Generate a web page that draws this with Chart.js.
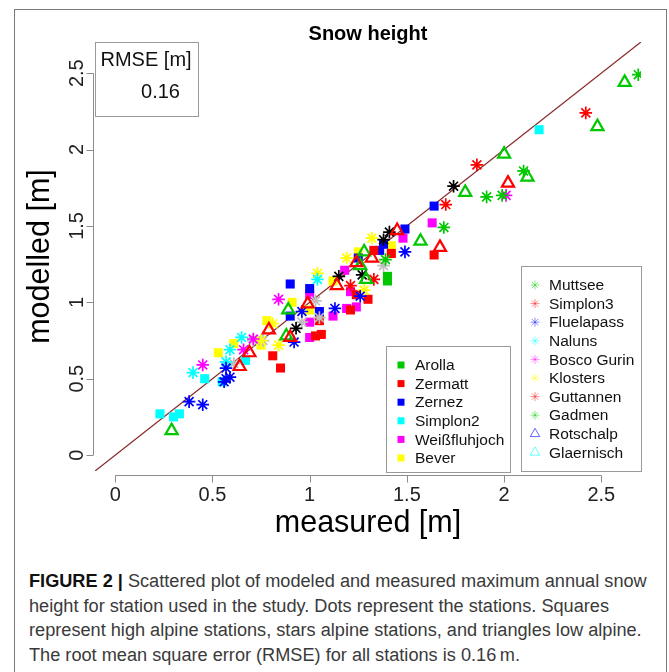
<!DOCTYPE html>
<html>
<head>
<meta charset="utf-8">
<title>Snow height</title>
<script src="https://cdn.jsdelivr.net/npm/chart.js"></script>
<style>
  html, body { margin: 0; padding: 0; background: #fff; }
  body { width: 669px; height: 672px; position: relative; overflow: hidden; }
  #frame { position: absolute; left: 14px; top: 9px; width: 653px; height: 700px; border: 1px solid #7a7a7a; box-sizing: border-box; }
  #chart { position: absolute; left: 0; top: 0; }
  #caption { position: absolute; left: 29px; top: 569px; font-family: "Liberation Sans", Arial, sans-serif;
             font-size: 18px; line-height: 24.7px; color: #3a3a3a; transform-origin: 0 0; white-space: nowrap; }
  #caption b { color: #111; }
</style>
</head>
<body>
<div id="frame"></div>
<canvas id="chart" width="669" height="560"></canvas>
<div id="caption">
  <div><span id="line1"><b>FIGURE 2 |</b> Scattered plot of modeled and measured maximum annual snow</span></div>
  <div>height for station used in the study. Dots represent the stations. Squares</div>
  <div>represent high alpine stations, stars alpine stations, and triangles low alpine.</div>
  <div>The root mean square error (RMSE) for all stations is 0.16&#8201;m.</div>
</div>
<script>
// axis ticks
const xTicks = [0, 0.5, 1, 1.5, 2, 2.5];
const xTickLabels = ['0', '0.5', '1', '1.5', '2', '2.5'];
const yTicks = [0, 0.5, 1, 1.5, 2, 2.5];
const yTickLabels = ['0', '0.5', '1', '1.5', '2', '2.5'];
const axisMin = -0.104, axisMax = 2.704;

// stations (measured, modelled) in m
// squares = high alpine
const arolla = [[1.40, 1.17], [1.40, 1.14]];
const zermatt = [[1.64, 1.31], [1.42, 1.32], [1.33, 1.34], [1.30, 1.02], [1.21, 0.95], [1.24, 1.05],
                 [1.05, 0.88], [1.06, 0.79], [1.03, 0.78], [0.81, 0.65], [0.85, 0.57]];
const zernez = [[1.64, 1.63], [1.49, 1.48], [1.38, 1.38], [1.36, 1.34], [1.25, 1.29], [0.90, 1.12],
                [1.00, 1.09], [1.05, 0.94], [0.90, 0.91]];
const simplon2 = [[2.18, 2.13], [0.23, 0.27], [0.30, 0.25], [0.33, 0.27], [0.46, 0.50], [0.55, 0.48], [0.67, 0.62]];
const weissfluhjoch = [[1.63, 1.52], [1.48, 1.42], [1.18, 1.21], [1.21, 1.07], [1.00, 1.05], [1.19, 0.96],
                       [1.24, 0.97], [1.12, 0.91], [1.00, 0.87], [1.00, 0.77]];
const bever = [[1.42, 1.37], [1.25, 1.33], [1.12, 1.14], [0.91, 1.00], [1.00, 0.95], [0.78, 0.88],
               [0.75, 0.72], [0.61, 0.73], [0.53, 0.67]];
// stars = alpine
const muttsee = [[2.69, 2.49], [2.10, 1.86], [1.91, 1.69], [1.99, 1.70], [1.69, 1.49], [1.39, 1.28]];
const simplon3 = [[2.42, 2.24], [1.86, 1.90], [1.70, 1.64], [1.33, 1.15], [1.21, 1.11]];
const fluelapass = [[1.49, 1.33], [1.26, 1.04], [1.13, 0.96], [0.96, 0.94], [0.92, 0.74], [0.57, 0.57],
                    [0.57, 0.50], [0.59, 0.51], [0.56, 0.48], [0.38, 0.35], [0.45, 0.33]];
const naluns = [[1.04, 1.15], [0.65, 0.77], [0.59, 0.69], [0.57, 0.61], [0.40, 0.54]];
const boscoGurin = [[2.01, 1.70], [0.84, 1.02], [0.66, 0.69], [0.45, 0.59], [0.71, 0.76]];
const klosters = [[1.32, 1.42], [1.19, 1.29], [1.04, 1.19], [1.28, 1.08], [0.81, 0.86], [0.84, 0.72], [0.75, 0.75]];
const guttannen = [[1.74, 1.76], [1.41, 1.46], [1.38, 1.41], [1.15, 1.17], [1.27, 1.18], [0.93, 0.83]];
const gadmen = [[1.38, 1.24], [1.03, 1.01], [1.05, 0.90], [0.96, 0.87], [0.71, 0.75], [0.76, 0.75], [0.61, 0.60]];
// triangles = low alpine
const rotschalp = [[2.02, 1.78], [1.67, 1.36], [1.45, 1.47], [1.32, 1.29], [1.24, 1.26], [1.14, 1.11],
                   [0.99, 0.99], [0.79, 0.82], [0.90, 0.77], [0.69, 0.67], [0.64, 0.58]];
const glaernisch = [[2.62, 2.44], [2.48, 2.15], [2.00, 1.97], [2.12, 1.82], [1.80, 1.72], [1.57, 1.40],
                    [1.28, 1.33], [1.26, 1.24], [1.29, 1.15], [0.89, 0.95], [0.88, 0.78], [0.29, 0.16]];

const squareNames = ['Arolla', 'Zermatt', 'Zernez', 'Simplon2', 'Weißfluhjoch', 'Bever'];
const squareData = [arolla, zermatt, zernez, simplon2, weissfluhjoch, bever];
const squareColors = ['#00c800', '#ff0000', '#0000ff', '#00ffff', '#ff00ff', '#ffff00'];

const starNames = ['Muttsee', 'Simplon3', 'Fluelapass', 'Naluns', 'Bosco Gurin', 'Klosters', 'Guttannen', 'Gadmen'];
const starData = [muttsee, simplon3, fluelapass, naluns, boscoGurin, klosters, guttannen, gadmen];
const starColors = ['#00c800', '#ff0000', '#0000ff', '#00ffff', '#ff00ff', '#ffff00', '#000000', '#bebebe'];

const triangleNames = ['Rotschalp', 'Glaernisch'];
const triangleData = [rotschalp, glaernisch];
const triangleColors = ['#ff0000', '#00c800'];

// colours as they appear in the second legend box
const starLegendColors = ['#00c800', '#ff0000', '#0000ff', '#00ffff', '#ff00ff', '#ffff00', '#ff0000', '#00c800'];
const triangleLegendColors = ['#0000ff', '#00ffff'];

const rmseTitle = 'RMSE [m]';
const rmseValue = '0.16';

const FONT = '"Liberation Sans", Arial, sans-serif';

function toPts(arr) {
  return arr.map(p => ({ x: p[0], y: p[1] }));
}

var datasets = [];
triangleNames.forEach((n, i) => datasets.push({
  type: 'scatter', label: n, data: toPts(triangleData[i]), order: 1,
  pointStyle: 'triangle', pointRadius: 7, backgroundColor: 'rgba(0,0,0,0)',
  borderColor: triangleColors[i], borderWidth: 2.2
}));
starNames.forEach((n, i) => datasets.push({
  type: 'scatter', label: n, data: toPts(starData[i]), order: 2,
  pointStyle: 'star', pointRadius: 6.3, backgroundColor: starColors[i],
  borderColor: starColors[i], borderWidth: 1.7
}));
squareNames.forEach((n, i) => datasets.push({
  type: 'scatter', label: n, data: toPts(squareData[i]), order: 3,
  pointStyle: 'rect', pointRadius: 6.4, backgroundColor: squareColors[i],
  borderColor: squareColors[i], borderWidth: 0
}));
// 1:1 line
datasets.push({
  type: 'line', label: '1:1', order: 10,
  data: [{ x: axisMin, y: axisMin }, { x: axisMax, y: axisMax }],
  borderColor: '#8b2b2b', borderWidth: 1.3, pointRadius: 0, fill: false
});

function fade(hex, a) {
  var r = parseInt(hex.slice(1, 3), 16), g = parseInt(hex.slice(3, 5), 16), b = parseInt(hex.slice(5, 7), 16);
  return 'rgba(' + r + ',' + g + ',' + b + ',' + a + ')';
}

function marker(ctx, shape, x, y, color) {
  ctx.save();
  if (shape === 'rect') {
    ctx.fillStyle = color;
    ctx.fillRect(x - 3.5, y - 3.5, 7, 7);
  } else if (shape === 'star') {
    ctx.strokeStyle = color; ctx.lineWidth = 1;
    var r = 4.5, d = r * Math.SQRT1_2;
    ctx.beginPath();
    ctx.moveTo(x - r, y); ctx.lineTo(x + r, y);
    ctx.moveTo(x, y - r); ctx.lineTo(x, y + r);
    ctx.moveTo(x - d, y - d); ctx.lineTo(x + d, y + d);
    ctx.moveTo(x - d, y + d); ctx.lineTo(x + d, y - d);
    ctx.stroke();
  } else {
    ctx.strokeStyle = color; ctx.lineWidth = 1;
    var t = 5.5;
    ctx.beginPath();
    ctx.moveTo(x, y - t);
    ctx.lineTo(x + t * 0.866, y + t * 0.5);
    ctx.lineTo(x - t * 0.866, y + t * 0.5);
    ctx.closePath();
    ctx.stroke();
  }
  ctx.restore();
}

function legendBox(ctx, l, t, r, b, items, mx, tx, y0, step) {
  ctx.fillStyle = '#fff';
  ctx.fillRect(l, t, r - l, b - t);
  ctx.strokeStyle = '#9a9a9a'; ctx.lineWidth = 1;
  ctx.strokeRect(l, t, r - l, b - t);
  ctx.font = '15.5px ' + FONT;
  ctx.textAlign = 'left'; ctx.textBaseline = 'middle';
  items.forEach((it, i) => {
    var y = y0 + i * step;
    marker(ctx, it.shape, mx, y, it.color);
    ctx.fillStyle = '#111';
    ctx.fillText(it.name, tx, y + 1);
  });
}

const rDecor = {
  id: 'rDecor',
  afterDraw(chart) {
    const ctx = chart.ctx, a = chart.chartArea;
    const xs = chart.scales.x, ys = chart.scales.y;
    ctx.save();
    // R style axes
    ctx.strokeStyle = '#8c8c8c'; ctx.lineWidth = 1;
    var ay = Math.round(a.bottom + 4) + 0.5, ax = Math.round(a.left - 2) + 0.5;
    ctx.beginPath();
    ctx.moveTo(xs.getPixelForValue(xTicks[0]), ay);
    ctx.lineTo(xs.getPixelForValue(xTicks[xTicks.length - 1]), ay);
    xTicks.forEach(v => { var p = Math.round(xs.getPixelForValue(v)) + 0.5; ctx.moveTo(p, ay); ctx.lineTo(p, ay + 7); });
    ctx.moveTo(ax, ys.getPixelForValue(yTicks[0]));
    ctx.lineTo(ax, ys.getPixelForValue(yTicks[yTicks.length - 1]));
    yTicks.forEach(v => { var p = Math.round(ys.getPixelForValue(v)) + 0.5; ctx.moveTo(ax, p); ctx.lineTo(ax - 7, p); });
    ctx.stroke();

    // RMSE box
    var bl = Math.round(a.left) + 0.5, bt = Math.round(a.top) + 0.5;
    ctx.fillStyle = '#fff';
    ctx.fillRect(bl, bt, 103, 74);
    ctx.strokeStyle = '#9a9a9a';
    ctx.strokeRect(bl, bt, 103, 74);
    ctx.fillStyle = '#111';
    ctx.font = '20px ' + FONT;
    ctx.textBaseline = 'middle';
    ctx.textAlign = 'left';
    ctx.fillText(rmseTitle, bl + 5, bt + 18);
    ctx.textAlign = 'center';
    ctx.fillText(rmseValue, bl + 65, bt + 50);

    // legends
    var sq = squareNames.map((n, i) => ({ name: n, shape: 'rect', color: squareColors[i] }));
    var st = starNames.map((n, i) => ({ name: n, shape: 'star', color: fade(starLegendColors[i], 0.45) }))
      .concat(triangleNames.map((n, i) => ({ name: n, shape: 'tri', color: fade(triangleLegendColors[i], 0.6) })));
    var R = Math.round(a.right), B = Math.round(a.bottom);
    legendBox(ctx, R - 254.5, B - 124.5, R - 130.5, B + 1.5, sq, R - 240, R - 226, B - 106, 18.6);
    legendBox(ctx, R - 119.5, B - 204.5, R + 0.5, B + 0.5, st, R - 106, R - 92, B - 186, 18.6);
    ctx.restore();
  }
};

new Chart(document.getElementById('chart'), {
  data: { datasets: datasets },
  options: {
    responsive: false,
    animation: false,
    devicePixelRatio: 1,
    layout: { padding: { left: 0, right: 28, top: 0, bottom: 0 } },
    plugins: {
      legend: { display: false },
      tooltip: { enabled: false },
      title: {
        display: true, text: 'Snow height', fullSize: false, color: '#000',
        font: { family: FONT, size: 20, weight: 'bold' },
        padding: { top: 22, bottom: -4 }
      }
    },
    scales: {
      x: {
        type: 'linear', position: 'bottom', min: axisMin, max: axisMax,
        afterBuildTicks: s => { s.ticks = xTicks.map(v => ({ value: v })); },
        afterFit: s => { s.height = 89; },
        grid: { display: false }, border: { display: false },
        ticks: {
          autoSkip: false, maxRotation: 0, padding: 4, color: '#222',
          font: { family: FONT, size: 20 },
          callback: (v, i) => xTickLabels[i]
        },
        title: {
          display: true, text: 'measured [m]', color: '#000',
          font: { family: FONT, size: 30.5 }, padding: { top: 0, bottom: 18 }
        }
      },
      y: {
        type: 'linear', position: 'left', min: axisMin, max: axisMax,
        afterBuildTicks: s => { s.ticks = yTicks.map(v => ({ value: v })); },
        afterFit: s => { s.width = 95; },
        grid: { display: false }, border: { display: false },
        ticks: {
          autoSkip: false, minRotation: 90, maxRotation: 90, crossAlign: 'center', padding: -4, color: '#222',
          font: { family: FONT, size: 20 },
          callback: (v, i) => yTickLabels[i]
        },
        title: {
          display: true, text: 'modelled [m]', color: '#000',
          font: { family: FONT, size: 30.5 }, padding: { top: 22, bottom: 0 }
        }
      }
    }
  },
  plugins: [rDecor]
});

// squeeze the caption to the width of the printed figure caption
(function () {
  var cap = document.getElementById('caption');
  var w = document.getElementById('line1').getBoundingClientRect().width;
  cap.style.transform = 'scaleX(' + (617.7 / w) + ')';
})();
</script>
</body>
</html>
